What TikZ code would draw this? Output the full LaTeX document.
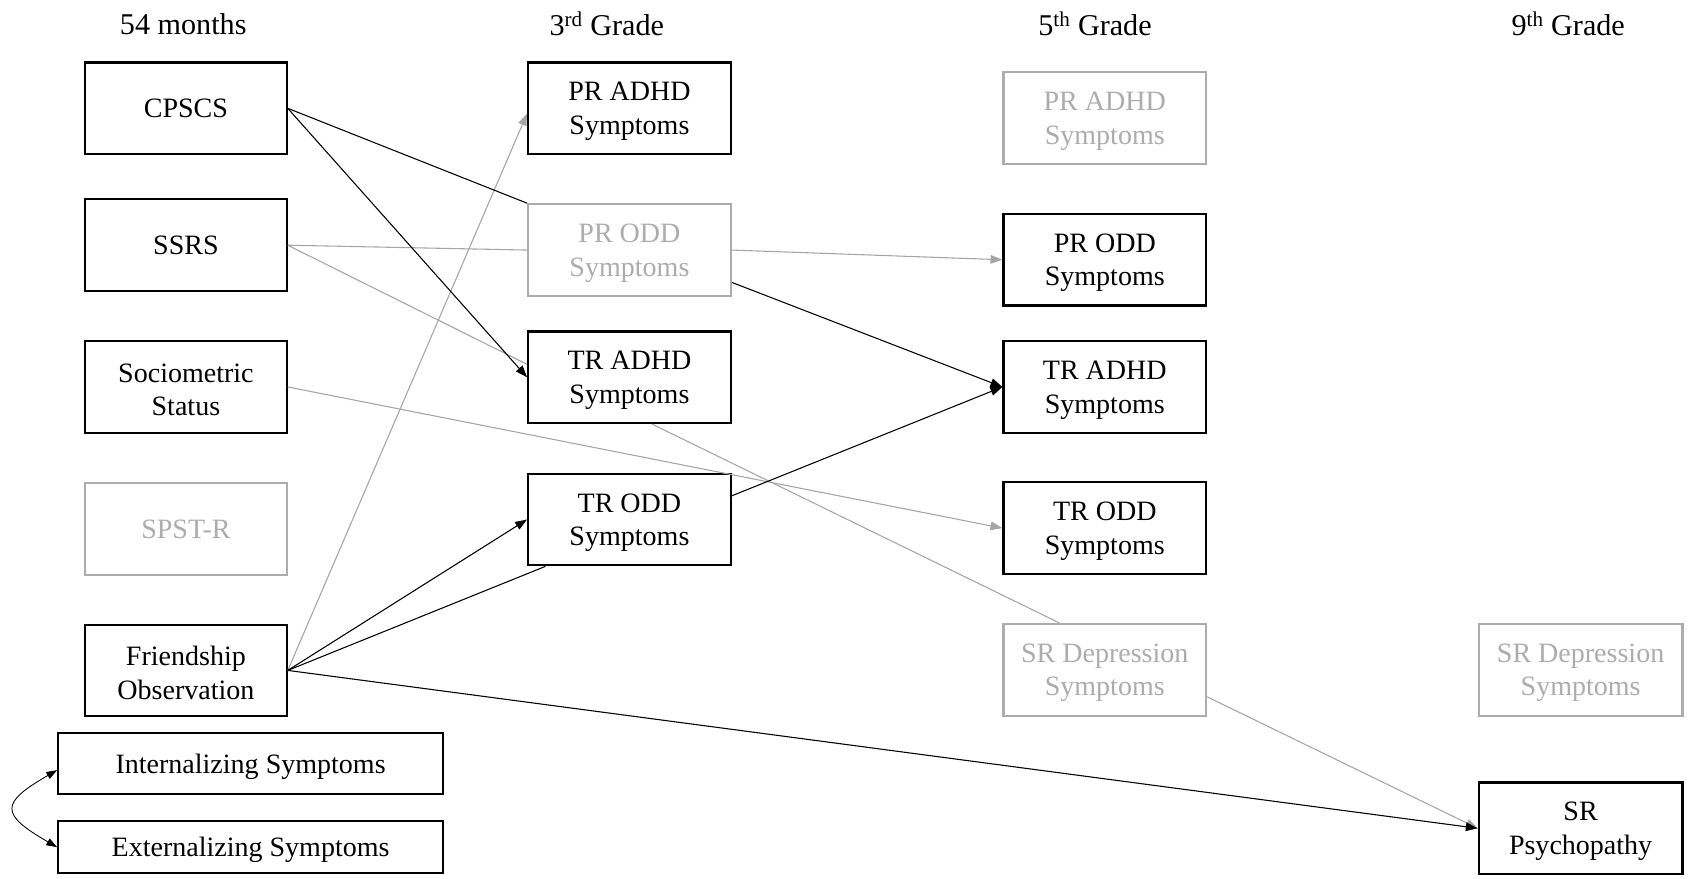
\documentclass[tikz,border=0pt]{standalone}
\usepackage{fontspec}
\setmainfont{Liberation Serif}
\usetikzlibrary{arrows.meta}
\definecolor{lg}{RGB}{172,172,172}
\definecolor{lgline}{RGB}{165,165,165}
\newcommand{\Tup}{\rule{0pt}{23pt}}
\tikzset{
  txt/.style={font=\fontsize{26}{31}\selectfont, align=center},
  hdr/.style={font=\fontsize{28}{33}\selectfont},
  box/.style={txt, draw=black, line width=2pt, minimum width=187pt, minimum height=85pt, inner sep=0pt},
  gbox/.style={box, draw=lg, text=lg},
  wbox/.style={box, minimum width=357pt},
  blk/.style={line width=1pt, draw=black},
  gry/.style={line width=1pt, draw=lgline},
  tipb/.style={-{Triangle[length=11pt,width=8pt]}},
  tipg/.style={-{Triangle[length=11pt,width=8pt,fill=lgline]}},
}
\begin{document}
\begin{tikzpicture}[x=1pt,y=-1pt]
\useasboundingbox (0,0) rectangle (1568,815);
% headers
\node[hdr] (h1) at (170,22) {54 months};
\node[hdr] (h2) at (563,22) {3\textsuperscript{rd} Grade};
\node[hdr] (h3) at (1016,22) {5\textsuperscript{th} Grade};
\node[hdr] (h4) at (1455,22) {9\textsuperscript{th} Grade};
% column 1
\node[box] (cpscs) at (172.5,100.5) {CPSCS};
\node[box] (ssrs) at (172.5,227.5) {SSRS};
\node[box] (socio) at (172.5,359) {\Tup Sociometric\\Status};
\node[gbox] (spst) at (172.5,491) {SPST-R};
\node[box] (friend) at (172.5,622) {\Tup Friendship\\Observation};
\node[wbox, minimum height=57pt] (intern) at (232.5,708.5) {\Tup Internalizing Symptoms};
\node[wbox, minimum height=48pt] (extern) at (232.5,786) {\Tup Externalizing Symptoms};
% column 2
\node[box, minimum width=188pt] (pradhdA) at (584,100.5) {\Tup PR ADHD\\Symptoms};
\node[gbox, minimum width=188pt] (proddA) at (584,232) {\Tup PR ODD\\Symptoms};
\node[box, minimum width=188pt] (tradhdA) at (584,350) {\Tup TR ADHD\\Symptoms};
\node[box, minimum width=188pt] (troddA) at (584,482) {\Tup TR ODD\\Symptoms};
% column 3
\node[gbox, minimum width=188pt] (pradhdB) at (1025,109.5) {\Tup PR ADHD\\Symptoms};
\node[box, minimum width=188pt] (proddB) at (1025,241) {\Tup PR ODD\\Symptoms};
\node[box, minimum width=188pt] (tradhdB) at (1025,359) {\Tup TR ADHD\\Symptoms};
\node[box, minimum width=188pt] (troddB) at (1025,490) {\Tup TR ODD\\Symptoms};
\node[gbox, minimum width=188pt] (srdepB) at (1025,621.5) {\Tup SR Depression\\Symptoms};
% column 4
\node[gbox, minimum width=189pt] (srdepC) at (1466.5,621.5) {\Tup SR Depression\\Symptoms};
\node[box, minimum width=189pt] (srpsy) at (1466.5,768.5) {\Tup SR\\Psychopathy};
% connectors (gray first)
\draw[gry] (ssrs.east) -- (proddA.west);
\draw[gry] (ssrs.east) -- ([yshift=12pt]tradhdA.west);
\draw[gry,tipg] (socio.east) -- (troddB.west);
\draw[gry,tipg] (friend.east) -- ([yshift=-5pt]pradhdA.west);
\draw[gry,tipg] (proddA.east) -- (proddB.west);
\draw[gry] ([xshift=21pt]tradhdA.south) -- ([xshift=-42pt]srdepB.north);
\draw[gry,tipg] ([yshift=-25pt]srdepB.east) -- (srpsy.west);
% black connectors
\draw[blk] (cpscs.east) -- (proddA.north west);
\draw[blk,tipb] (cpscs.east) -- (tradhdA.west);
\draw[blk,tipb] (friend.east) -- (troddA.west);
\draw[blk] (friend.east) -- ([xshift=17pt]troddA.south west);
\draw[blk,tipb] (friend.east) -- (srpsy.west);
\draw[blk,tipb] ([yshift=-30pt]proddA.east) -- (tradhdB.west);
\draw[blk,tipb] ([yshift=22pt]troddA.east) -- (tradhdB.west);
\draw[line width=0.8pt,{Triangle[length=10pt,width=7pt]}-{Triangle[length=10pt,width=7pt]}] ([yshift=-6pt]intern.west) to[out=210,in=150,looseness=2.2] (extern.west);
\end{tikzpicture}
\end{document}
